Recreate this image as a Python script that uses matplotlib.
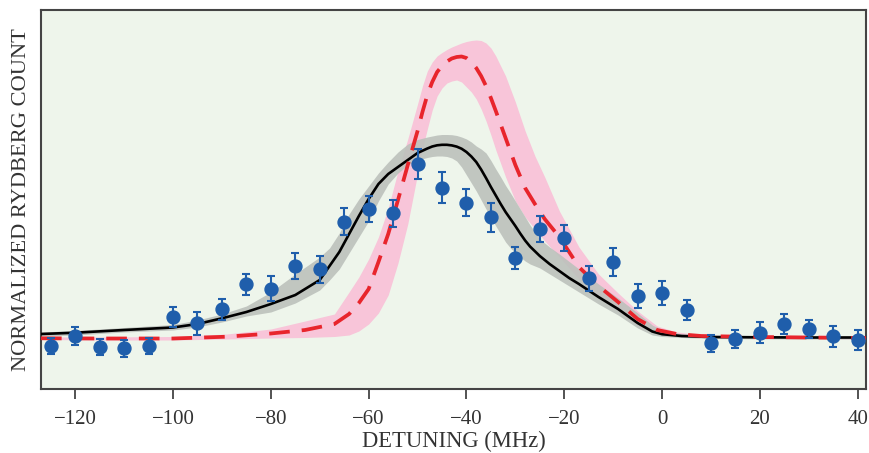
import matplotlib
matplotlib.use("Agg")
import matplotlib.pyplot as plt

# ---- data (detuning in MHz, counts in arbitrary normalized units) ----
pts_x = [-125, -120, -115, -110, -105, -100, -95, -90, -85, -80, -75, -70, -65, -60, -55,
         -50, -45, -40, -35, -30, -25, -20, -15, -10, -5, 0, 5, 10, 15, 20, 25, 30, 35, 40]
pts_y = [43, 53, 42.3, 40.7, 43, 71.7, 65.7, 80, 104.7, 100.3, 123.3, 119.7, 167.3, 180, 175.7,
         224.7, 201.3, 186.3, 171.7, 131.3, 159.7, 150.7, 110.7, 126.7, 93.3, 96.3, 79, 45.7, 50,
         56.3, 65, 60, 53, 49]
pts_err = [8, 9, 8, 8.3, 8, 10, 11.7, 10.5, 10.8, 12.5, 12.8, 13.3, 13.8, 13.3, 13.3,
           15, 15.8, 13.7, 14.7, 11, 12.8, 13, 12.3, 13.8, 11.8, 12, 10, 8.8, 9.2, 10.7,
           9.8, 8.7, 10.5, 10.3]

black_x = [-127, -120, -110, -100, -95, -90, -85, -80, -75, -70, -68, -66, -64, -62, -60, -58,
           -56, -54, -52, -50, -48, -47, -46, -45, -44, -43, -42, -41, -40, -39, -38, -37, -36,
           -35, -34, -33, -32, -31, -30, -29, -28, -27, -25, -23, -21, -19, -17, -13, -9, -5,
           -2, 0, 4, 10, 20, 30, 42]
black_y = [55, 56.3, 59, 61.5, 65, 70.7, 77, 85, 94, 109, 123, 137, 155, 173, 190, 205,
           215, 222, 229, 236, 240.5, 242.5, 243.7, 244.2, 244.2, 243.6, 242.4, 240.3, 237, 232.5,
           227, 219.5, 211, 202, 193.5, 185, 177, 170, 163, 155.5, 148.5, 142.5, 133, 125, 118,
           111, 105, 92, 80, 66, 57.5, 54.8, 53, 52, 51.7, 51.5, 51.5]
gray_lo = [53, 54, 57, 59, 62, 67, 73, 77, 86, 99, 109, 120, 136, 152, 168, 188,
           205, 216, 224, 229, 231.5, 232.5, 233, 233, 232.5, 231, 228, 222, 214, 206,
           198, 189, 180, 171.5, 163, 155, 147, 141, 136, 132, 128, 125, 121, 115, 109,
           103, 97, 85, 74, 61, 54, 52.5, 51.5, 50.5, 50.2, 50, 50]
gray_hi = [57, 58.5, 61.5, 64.5, 69, 75, 83, 97, 115, 132, 141, 156, 175, 190, 203, 216,
           227, 237, 245, 249.5, 252, 253, 254, 254.5, 254.5, 254.3, 253.5, 252, 250, 247,
           243, 240, 236, 228.5, 220, 212, 203.5, 196, 188, 180, 172, 164, 150, 142, 135,
           127.5, 120, 105, 91, 76, 64, 59, 55, 53.5, 53, 53, 53]

red_x = [-127, -115, -100, -89, -80, -73, -67, -64, -62, -60, -58, -56, -54, -52, -50, -49,
         -48, -47, -46, -45, -44, -43, -42, -41, -40, -39, -38, -37, -36, -35, -34, -32, -30,
         -28, -26, -24, -21, -17, -13, -9, -5, -1, 3, 8, 20, 30, 42]
red_y = [50.7, 50.5, 50.5, 52.3, 55.5, 59, 65, 75, 86, 100, 127, 155, 189, 224, 258, 277,
         294, 307, 317, 323, 327.5, 330.5, 332, 332.5, 331, 327, 321, 313, 303, 291, 278, 251,
         224, 201, 185, 170, 152, 122, 103, 87, 70, 59, 55, 53, 52, 51.5, 51]
pink_lo = [49.5, 49, 49, 50, 51, 51.5, 52.5, 54, 58, 65, 76, 94, 126, 165, 215, 240,
           260, 279, 293, 301, 306, 308, 309, 307, 302, 297, 290, 280, 268, 254, 239, 212, 188,
           172, 160, 148, 132, 110, 92, 78, 63, 56, 53, 52, 51, 50.5, 50]
pink_hi = [52, 52, 52.5, 55, 60, 68, 75, 97, 112, 130, 152, 181, 218, 250, 285, 303,
           318, 327, 333, 336.5, 339.5, 342, 344, 346, 347.5, 348.5, 349, 348.5, 346, 341, 333,
           313, 287, 258, 233, 212, 178, 142, 115, 96, 78, 63, 57, 54, 53, 52.5, 52]

xticks = [-120, -100, -80, -60, -40, -20, 0, 20, 40]

# ---- style ----
BG = "#eef5eb"
BLUE = "#1f5eab"
GRAY = "#bcc1bc"
PINK = "#f8c5d9"
RED = "#e8252c"
FRAME = "#444444"
TXT = "#333333"
FONT = ["Liberation Serif", "DejaVu Serif"]

fig = plt.figure(figsize=(8.69, 4.53), dpi=100)
ax = fig.add_axes([41 / 869, (453 - 389) / 453, (866 - 41) / 869, (389 - 10) / 453])
ax.set_facecolor(BG)

ax.fill_between(red_x, pink_lo, pink_hi, color=PINK, lw=0, zorder=1)
ax.fill_between(black_x, gray_lo, gray_hi, color=GRAY, lw=0, alpha=0.9, zorder=2)
ax.plot(black_x, black_y, color="black", lw=1.9, zorder=3, solid_joinstyle="round")
ax.plot(red_x, red_y, color=RED, lw=2.7, linestyle=(0, (5.5, 3.2)), zorder=4)
ax.errorbar(pts_x, pts_y, yerr=pts_err, fmt="o", color=BLUE, ms=9.3, mec=BLUE,
            elinewidth=1.5, capsize=3.2, capthick=1.5, zorder=5)

ax.set_xlim(-127, 41.7)
ax.set_ylim(0, 379)
ax.set_xticks(xticks)
ax.set_xticklabels(["\u2212%d" % -t if t < 0 else "%d" % t for t in xticks],
                   fontfamily=FONT, fontsize=15, color=TXT)
ax.set_yticks([])
ax.tick_params(axis="x", direction="out", length=7, width=1.3, color=FRAME, pad=8)
for s in ax.spines.values():
    s.set_color(FRAME)
    s.set_linewidth(1.5)

ax.set_xlabel("DETUNING (MHz)", fontfamily=FONT, fontsize=16.3, color=TXT, labelpad=1.5)
ax.set_ylabel("NORMALIZED RYDBERG COUNT", fontfamily=FONT, fontsize=16.2, color=TXT,
              labelpad=7)

fig.savefig("out.png", dpi=100, facecolor="white")
